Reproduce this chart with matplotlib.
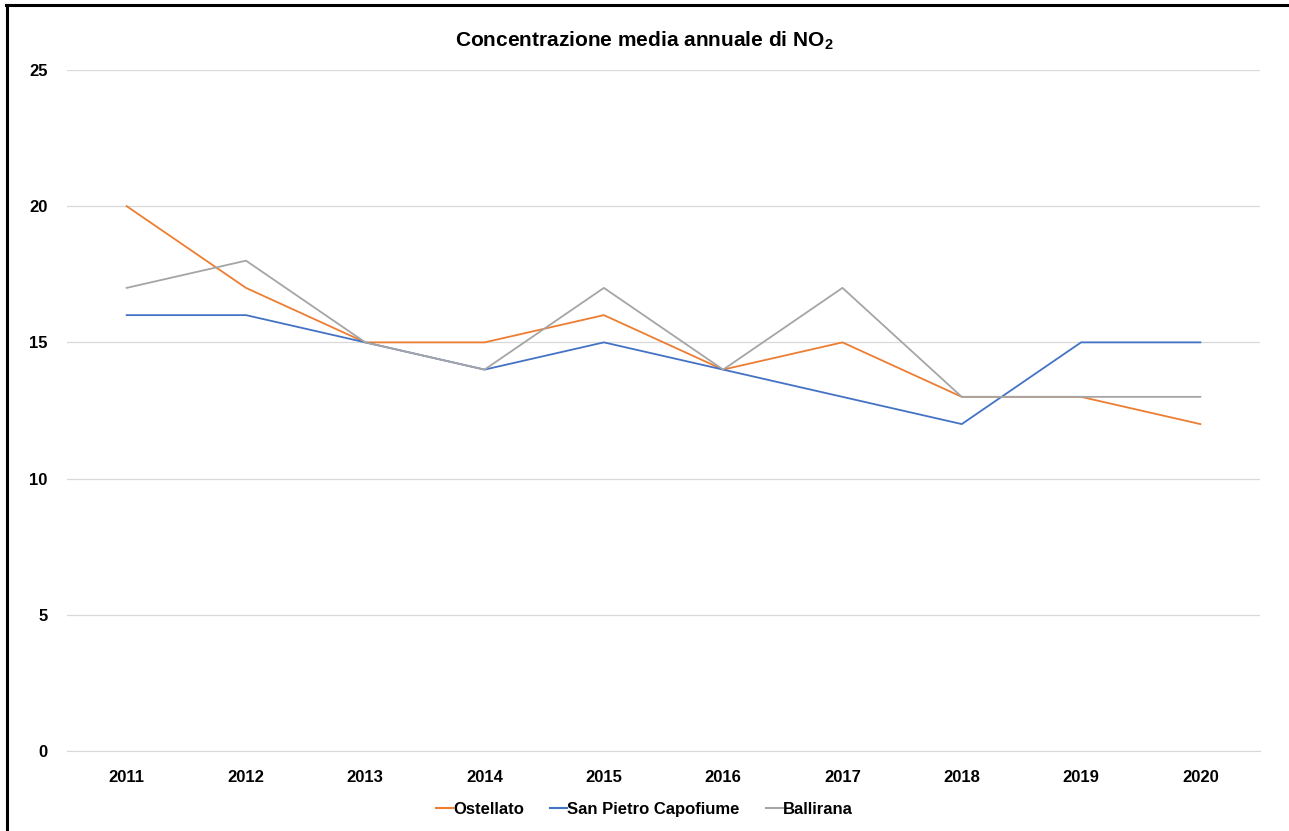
import matplotlib
matplotlib.use("Agg")
from matplotlib import pyplot as plt
from matplotlib.lines import Line2D

years = ['2011', '2012', '2013', '2014', '2015', '2016', '2017', '2018', '2019', '2020']
ostellato = [20, 17, 15, 15, 16, 14, 15, 13, 13, 12]
san_pietro = [16, 16, 15, 14, 15, 14, 13, 12, 15, 15]
ballirana = [17, 18, 15, 14, 17, 14, 17, 13, 13, 13]
series_names = ['Ostellato', 'San Pietro Capofiume', 'Ballirana']
colors = ['#ED7D31', '#4472C4', '#A5A5A5']

plt.rcParams['font.family'] = ['Liberation Sans', 'DejaVu Sans']

fig = plt.figure(figsize=(12.89, 8.31), dpi=100)
ax = fig.add_axes([0.052, 0.0963, 0.9255, 0.8195])

x = list(range(len(years)))
for vals, name, c in zip([ostellato, san_pietro, ballirana], series_names, colors):
    ax.plot(x, vals, color=c, lw=1.3, label=name)

ax.set_xlim(-0.5, len(years) - 0.5)
ax.set_ylim(0, 25)
ax.set_yticks([0, 5, 10, 15, 20, 25])
ax.set_xticks(x)
ax.set_xticklabels(years)
ax.grid(axis='y', color='#D9D9D9', lw=0.9)
ax.set_axisbelow(True)
for s in ['top', 'right', 'left']:
    ax.spines[s].set_visible(False)
ax.spines['bottom'].set_color('#D9D9D9')
ax.tick_params(length=0, labelsize=12)
ax.tick_params(axis='x', pad=14)
ax.tick_params(axis='y', pad=14)
for lab in ax.get_xticklabels() + ax.get_yticklabels():
    lab.set_fontweight('bold')

fig.text(0.5, 0.951, 'Concentrazione media annuale di NO$_\\mathregular{2}$',
         ha='center', va='center', fontsize=15, fontweight='bold')

handles = [Line2D([0], [0], color=c, lw=1.5) for c in colors]
leg = fig.legend(handles, series_names, loc='center', bbox_to_anchor=(0.5, 0.026),
                 ncol=3, frameon=False, handlelength=1.0, handletextpad=0.0,
                 columnspacing=1.6, prop={'size': 12, 'weight': 'bold'})

# chart frame (left and top edges visible)
fig.add_artist(Line2D([0.0055, 0.0055], [0, 0.9935], color='black', lw=2.2,
                      transform=fig.transFigure))
fig.add_artist(Line2D([0.0045, 1.0], [0.9935, 0.9935], color='black', lw=2.2,
                      transform=fig.transFigure))

fig.savefig('out.png', dpi=100)
